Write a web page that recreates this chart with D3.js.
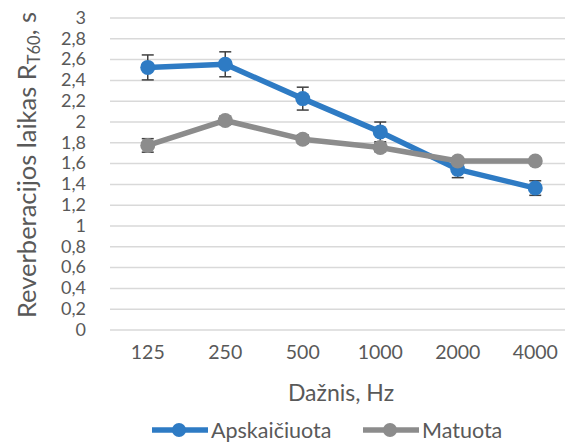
<!DOCTYPE html>
<html><head><meta charset="utf-8">
<script src="https://cdn.jsdelivr.net/npm/d3@7"></script>
<style>
html,body{margin:0;padding:0;background:#fff;}
svg{display:block;}
text{font-family:Lato,"Open Sans",sans-serif;fill:#595959;}
</style></head>
<body>
<svg id="chart" width="565" height="442"></svg>
<script>
const categories = ["125","250","500","1000","2000","4000"];
const apskaiciuota = [2.52, 2.55, 2.22, 1.90, 1.54, 1.36];
const apskaiciuotaErr = [0.12, 0.12, 0.11, 0.095, 0.08, 0.07];
const matuota = [1.77, 2.01, 1.83, 1.75, 1.62, 1.62];
const matuotaErr = [0.065, 0.04, 0.04, 0.04, 0.03, 0.03];
const yTicks = [0,0.2,0.4,0.6,0.8,1,1.2,1.4,1.6,1.8,2,2.2,2.4,2.6,2.8,3];
const seriesNames = ["Apskaičiuota","Matuota"];
const colors = ["#2E7BC4","#8C8C8C"];

const svg = d3.select("#chart");
const x = d3.scaleBand().domain(categories).range([109, 574]).paddingInner(0).paddingOuter(0);
const y = d3.scaleLinear().domain([0,3]).range([329.5, 17.5]);
const fmt = v => String(+v.toFixed(1)).replace(".", ",");

// gridlines
const yAxis = d3.axisLeft(y).tickValues(yTicks).tickSize(-(574-110)).tickFormat(fmt).tickPadding(24);
const gy = svg.append("g").attr("transform","translate(110,0)").call(yAxis);
gy.select(".domain").remove();
gy.selectAll(".tick line").attr("stroke","#D9D9D9").attr("stroke-width",1.5);
gy.selectAll(".tick text").attr("font-size","18px").attr("fill","#595959")
  .attr("x",-24).attr("font-family","Lato");

// x axis labels
const xAxis = d3.axisBottom(x).tickSize(0).tickPadding(0);
const gx = svg.append("g").attr("transform","translate(0,345)").call(xAxis);
gx.select(".domain").remove();
gx.selectAll(".tick text").attr("font-size","19.5px").attr("fill","#595959").attr("dy","0.71em").attr("font-family","Lato");

// axis titles
svg.append("text").attr("x",341).attr("y",401).attr("text-anchor","middle")
  .attr("font-size","23px").text("Dažnis, Hz");
const yt = svg.append("text").attr("transform","translate(36,165) rotate(-90)")
  .attr("text-anchor","middle").attr("font-size","25.5px");
yt.append("tspan").text("Reverberacijos laikas R");
yt.append("tspan").attr("font-size","16.5px").attr("dy","4").text("T60");
yt.append("tspan").attr("dy","-4").text(", s");

// series
const allSeries = [
  {vals: apskaiciuota, err: apskaiciuotaErr, color: colors[0]},
  {vals: matuota, err: matuotaErr, color: colors[1]}
];
const cx = c => x(c) + x.bandwidth()/2;
const line = d3.line().x(d => cx(d.c)).y(d => y(d.v));
allSeries.forEach(s => {
  const data = categories.map((c,i) => ({c, v: s.vals[i], e: s.err[i]}));
  const g = svg.append("g");
  g.append("path").datum(data).attr("d", line).attr("fill","none")
    .attr("stroke", s.color).attr("stroke-width",5.5).attr("stroke-linejoin","round");
  const eb = g.selectAll(".eb").data(data).enter().append("g");
  eb.append("line").attr("x1",d=>cx(d.c)).attr("x2",d=>cx(d.c))
    .attr("y1",d=>y(d.v+d.e)).attr("y2",d=>y(d.v-d.e));
  eb.append("line").attr("x1",d=>cx(d.c)-6).attr("x2",d=>cx(d.c)+6)
    .attr("y1",d=>y(d.v+d.e)).attr("y2",d=>y(d.v+d.e));
  eb.append("line").attr("x1",d=>cx(d.c)-6).attr("x2",d=>cx(d.c)+6)
    .attr("y1",d=>y(d.v-d.e)).attr("y2",d=>y(d.v-d.e));
  eb.selectAll("line").attr("stroke","#404040").attr("stroke-width",1.5);
  g.selectAll("circle").data(data).enter().append("circle")
    .attr("cx",d=>cx(d.c)).attr("cy",d=>y(d.v)).attr("r",7.5).attr("fill",s.color);
});

// legend
const legendItems = [{x:152, name: seriesNames[0], color: colors[0]},{x:363, name: seriesNames[1], color: colors[1]}];
legendItems.forEach(it => {
  const g = svg.append("g");
  g.append("line").attr("x1",it.x).attr("x2",it.x+56).attr("y1",430).attr("y2",430)
    .attr("stroke",it.color).attr("stroke-width",5.5);
  g.append("circle").attr("cx",it.x+27).attr("cy",430).attr("r",7).attr("fill",it.color);
  g.append("text").attr("x",it.x+59).attr("y",437.5).attr("font-size","21.5px").text(it.name);
});
</script>
</body></html>
